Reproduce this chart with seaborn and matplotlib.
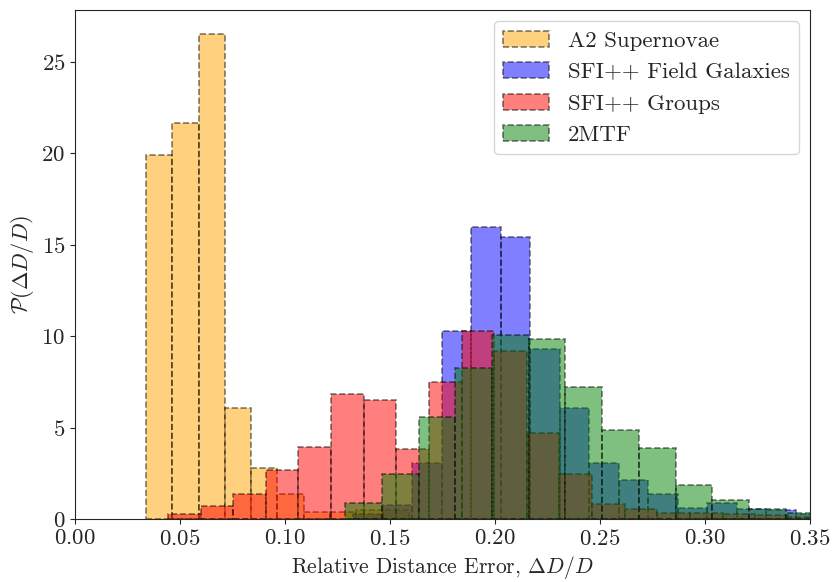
import numpy as np
import pandas as pd
import matplotlib
matplotlib.use('Agg')
import matplotlib.pyplot as plt
import seaborn as sns

# bin edges (start, width) and density heights
a2_start, a2_width = 0.0338, 0.01252
a2_heights = [19.87, 21.65, 26.5, 6.1, 2.8, 1.4, 0.4, 0.4, 0.5, 0.5]

sfi_start, sfi_width = 0.1324, 0.01405
sfi_heights = [0.3, 0.8, 3.08, 10.27, 15.94, 15.43, 9.27, 6.1, 3.06, 2.16,
               1.36, 0.6, 0.9, 0.54, 0.5, 0.3]

grp_start, grp_width = 0.0443, 0.01553
grp_heights = [0.27, 0.7, 1.4, 2.7, 3.93, 6.83, 6.5, 3.84, 7.5, 10.3,
               9.2, 4.7, 2.48, 0.82, 0.54, 0.34, 0.34, 0.3, 0.2, 0.1]

mtf_start, mtf_width = 0.1286, 0.01748
mtf_heights = [0.87, 2.48, 5.56, 8.28, 10.05, 9.86, 7.23, 4.89, 3.86, 1.88,
               1.03, 0.54, 0.34]

labels = ['A2 Supernovae', 'SFI++ Field Galaxies', 'SFI++ Groups', '2MTF']
colors = ['orange', 'blue', 'red', 'green']

sns.set_style('ticks')
plt.rcParams['font.family'] = 'serif'
plt.rcParams['font.serif'] = ['cmr10', 'DejaVu Serif']
plt.rcParams['mathtext.fontset'] = 'cm'
plt.rcParams['axes.formatter.use_mathtext'] = True

fig = plt.figure(figsize=(8.33, 5.82), dpi=100)
ax = fig.add_axes([0.09, 0.108, 0.8825, 0.875])

datasets = [(a2_start, a2_width, a2_heights),
            (sfi_start, sfi_width, sfi_heights),
            (grp_start, grp_width, grp_heights),
            (mtf_start, mtf_width, mtf_heights)]

for (start, width, heights), lab, col in zip(datasets, labels, colors):
    edges = start + width * np.arange(len(heights) + 1)
    df = pd.DataFrame({'x': 0.5 * (edges[:-1] + edges[1:]), 'w': heights})
    sns.histplot(data=df, x='x', weights='w', bins=list(edges), color=col,
                 alpha=0.5, edgecolor=(0, 0, 0, 0.5), linestyle='--',
                 linewidth=1.2, label=lab, ax=ax)

ax.set_xlim(0, 0.35)
ax.set_xticks(np.arange(0, 0.36, 0.05))
ax.set_yticks([0, 5, 10, 15, 20, 25])
ax.tick_params(labelsize=16.5)
ax.set_xlabel(r'Relative Distance Error, $\Delta D/D$', fontsize=15.5)
ax.set_ylabel(r'$\mathcal{P}(\Delta D/D)$', fontsize=16)
ax.legend(loc='upper right', fontsize=16.5)

fig.savefig('out.png', dpi=100)
